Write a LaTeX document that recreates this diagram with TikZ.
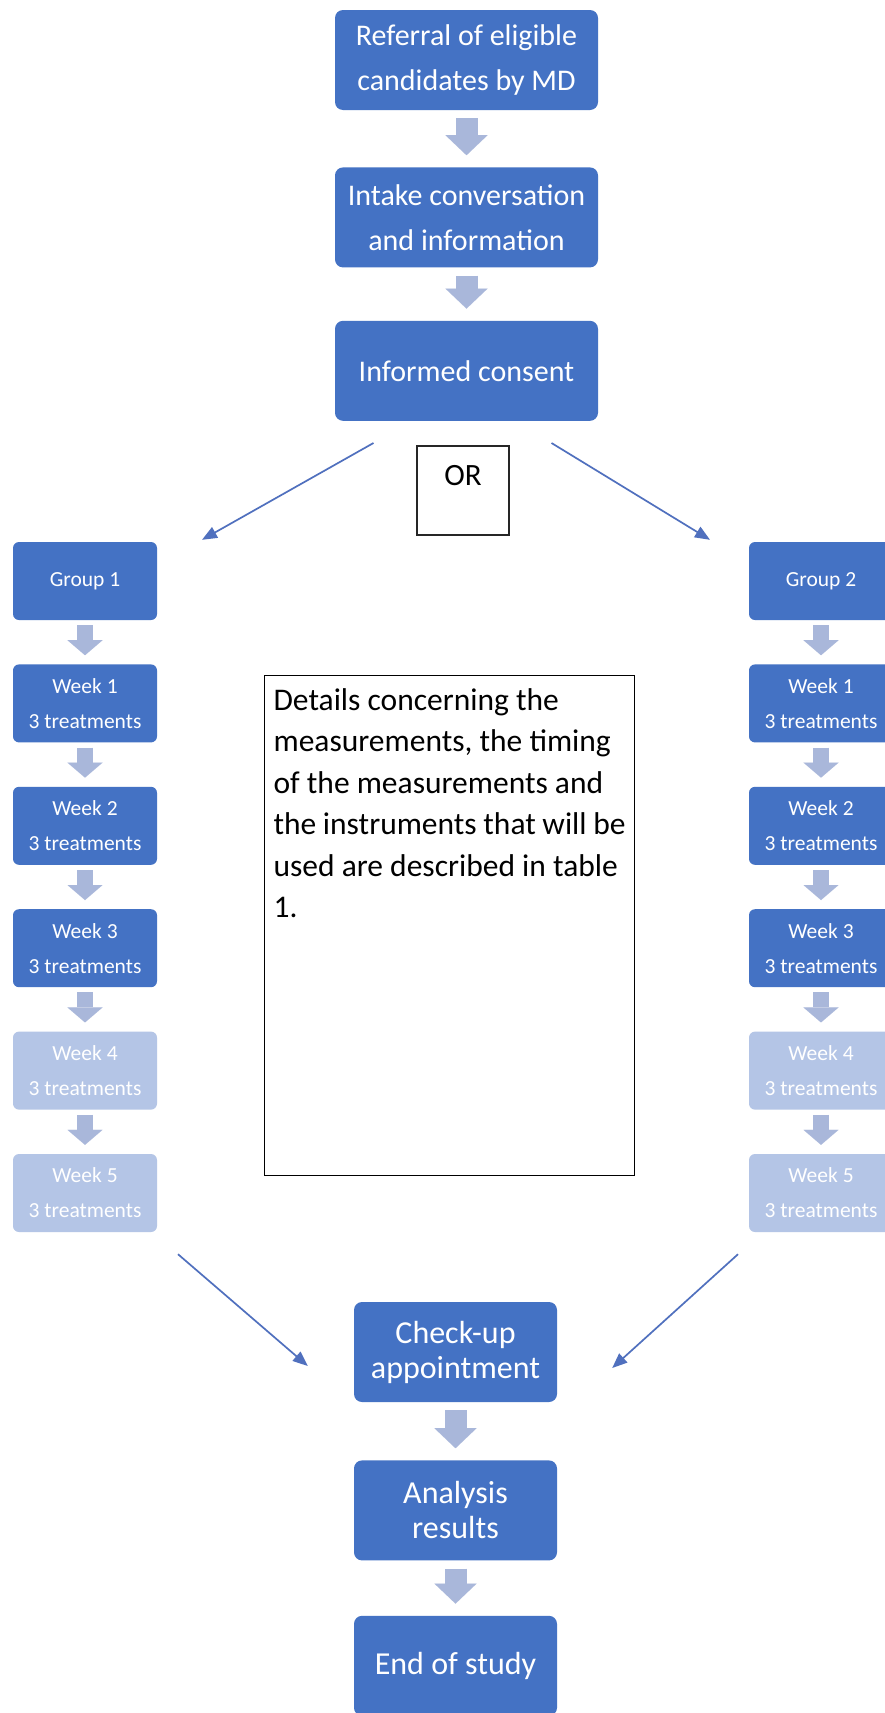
\documentclass[tikz,border=0pt]{standalone}
\usepackage{fontspec}
\setmainfont{Carlito}
\usepackage{tikz}
\usetikzlibrary{positioning,arrows.meta}
\definecolor{SAblue}{HTML}{4472C4}
\definecolor{SAfade}{HTML}{B4C5E6}
\definecolor{SAarrow}{HTML}{A9B7DA}
\definecolor{SAline}{HTML}{5070BE}
\tikzset{
  stepbox/.style={rounded corners=8pt, fill=SAblue, text=white, align=center, minimum width=263pt, minimum height=100pt, inner sep=0pt, font=\fontsize{30}{45}\selectfont},
  endbox/.style={stepbox, minimum width=203pt, font=\fontsize{32}{35}\selectfont},
  weekbox/.style={rounded corners=6pt, fill=SAblue, text=white, align=center, minimum width=144pt, minimum height=78pt, inner sep=0pt, font=\fontsize{21.5}{35}\selectfont},
  fadebox/.style={weekbox, fill=SAfade},
  blockarr/.style={draw=SAarrow, line width=22pt, -{Triangle[length=20pt,width=42pt,line width=0.01pt]}, shorten <=8pt, shorten >=12pt},
  smallarr/.style={draw=SAarrow, line width=16pt, -{Triangle[length=15pt,width=35pt,line width=0.01pt]}, shorten <=5pt, shorten >=9pt},
  splitarr/.style={draw=SAline, line width=1.7pt, -{Triangle[length=15pt,width=12pt]}},
  orbox/.style={draw=black!85, line width=1.5pt, anchor=north, inner sep=0pt, minimum width=92pt, text height=40pt, text depth=49pt, font=\fontsize{31}{37}\selectfont},
  notebox/.style={draw=black, line width=1.2pt, anchor=north west, inner xsep=9pt, inner ysep=13pt, font=\fontsize{31.5}{41.5}\selectfont}
}
\begin{document}
\begin{tikzpicture}[x=1pt,y=-1pt]
  \useasboundingbox[fill=white] (0,0) rectangle (885,1713);
  % intake steps
  \node[stepbox] (refer) at (466.5,60) {Referral of eligible\\candidates by MD};
  \node[stepbox, below=57pt of refer] (intake) {Intake conversation\\and information};
  \node[stepbox, below=53pt of intake] (consent) {Informed consent};
  \draw[blockarr] (refer) -- (intake); \draw[blockarr] (intake) -- (consent);
  \node[orbox] (or) at (463,445) {OR};

  % group 1
  \node[weekbox] (grp1) at (85,581) {Group 1};
  \node[weekbox, below=44pt of grp1] (wk1a) {Week 1\\3 treatments};
  \node[weekbox, below=44pt of wk1a] (wk2a) {Week 2\\3 treatments};
  \node[weekbox, below=44pt of wk2a] (wk3a) {Week 3\\3 treatments};
  \node[fadebox, below=44pt of wk3a] (wk4a) {Week 4\\3 treatments};
  \node[fadebox, below=44pt of wk4a] (wk5a) {Week 5\\3 treatments};
  \draw[smallarr] (grp1) -- (wk1a); \draw[smallarr] (wk1a) -- (wk2a); \draw[smallarr] (wk2a) -- (wk3a);
  \draw[smallarr] (wk3a) -- (wk4a); \draw[smallarr] (wk4a) -- (wk5a);

  % group 2
  \node[weekbox] (grp2) at (821,581) {Group 2};
  \node[weekbox, below=44pt of grp2] (wk1b) {Week 1\\3 treatments};
  \node[weekbox, below=44pt of wk1b] (wk2b) {Week 2\\3 treatments};
  \node[weekbox, below=44pt of wk2b] (wk3b) {Week 3\\3 treatments};
  \node[fadebox, below=44pt of wk3b] (wk4b) {Week 4\\3 treatments};
  \node[fadebox, below=44pt of wk4b] (wk5b) {Week 5\\3 treatments};
  \draw[smallarr] (grp2) -- (wk1b); \draw[smallarr] (wk1b) -- (wk2b); \draw[smallarr] (wk2b) -- (wk3b);
  \draw[smallarr] (wk3b) -- (wk4b); \draw[smallarr] (wk4b) -- (wk5b);

  \node[notebox] (note) at (264,675) {\parbox[c][474pt][t]{352pt}{\raggedright Details concerning the\\measurements, the timing\\of the measurements and\\the instruments that will be\\used are described in table\\1.}};

  \draw[splitarr] ([xshift=-93pt,yshift=-22pt]consent.south) -- ([xshift=117pt,yshift=2pt]grp1.north);
  \draw[splitarr] ([xshift=85pt,yshift=-22pt]consent.south) -- ([xshift=-111pt,yshift=2pt]grp2.north);

  % closing steps
  \node[endbox] (check) at (455.5,1352) {Check-up\\appointment};
  \node[endbox, below=58pt of check] (analysis) {Analysis\\results};
  \node[endbox, below=55pt of analysis] (end) {End of study};
  \draw[blockarr] (check) -- (analysis); \draw[blockarr] (analysis) -- (end);

  \draw[splitarr] ([xshift=93pt,yshift=-22pt]wk5a.south) -- ([xshift=-46pt,yshift=-14pt]check.west);
  \draw[splitarr] ([xshift=-83pt,yshift=-22pt]wk5b.south) -- ([xshift=55pt,yshift=-16pt]check.east);
\end{tikzpicture}
\end{document}
